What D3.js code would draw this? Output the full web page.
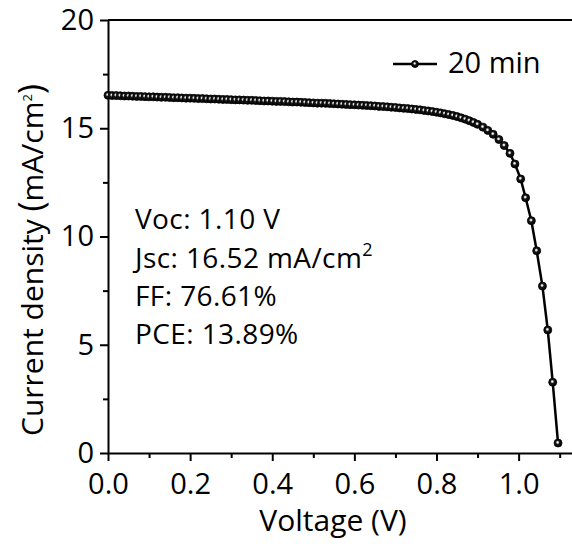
<!DOCTYPE html>
<html>
<head>
<script src="https://d3js.org/d3.v7.min.js"></script>
<style>
  body { margin: 0; padding: 0; background: #fff; }
  text { font-family: "Open Sans", sans-serif; fill: #000; }
</style>
</head>
<body>
<div id="chart"></div>
<script>
// J-V curve, 20 min sample
var voltage = [
  0.00, 0.01, 0.02, 0.03, 0.04, 0.05, 0.06, 0.07, 0.08, 0.09,
  0.10, 0.11, 0.12, 0.13, 0.14, 0.15, 0.16, 0.17, 0.18, 0.19,
  0.20, 0.21, 0.22, 0.23, 0.24, 0.25, 0.26, 0.27, 0.28, 0.29,
  0.30, 0.31, 0.32, 0.33, 0.34, 0.35, 0.36, 0.37, 0.38, 0.39,
  0.40, 0.41, 0.42, 0.43, 0.44, 0.45, 0.46, 0.47, 0.48, 0.49,
  0.50, 0.51, 0.52, 0.53, 0.54, 0.55, 0.56, 0.57, 0.58, 0.59,
  0.60, 0.61, 0.62, 0.63, 0.64, 0.65, 0.66, 0.67, 0.68, 0.69,
  0.70, 0.71, 0.72, 0.73, 0.74, 0.75, 0.76, 0.77, 0.78, 0.79,
  0.80, 0.81, 0.82, 0.83, 0.84, 0.85, 0.86, 0.87, 0.88, 0.89,
  0.90, 0.913, 0.925, 0.938, 0.952, 0.965, 0.979, 0.991, 1.005, 1.017,
  1.031, 1.044, 1.058, 1.071, 1.083, 1.096
];
var current = [
  16.52, 16.51, 16.51, 16.50, 16.49, 16.49, 16.48, 16.47, 16.47, 16.46,
  16.45, 16.45, 16.44, 16.43, 16.43, 16.42, 16.41, 16.41, 16.40, 16.39,
  16.39, 16.38, 16.37, 16.37, 16.36, 16.35, 16.35, 16.34, 16.33, 16.33,
  16.32, 16.31, 16.31, 16.30, 16.29, 16.29, 16.28, 16.27, 16.26, 16.26,
  16.25, 16.24, 16.24, 16.23, 16.22, 16.21, 16.21, 16.20, 16.19, 16.18,
  16.17, 16.16, 16.16, 16.15, 16.14, 16.13, 16.12, 16.11, 16.10, 16.09,
  16.08, 16.07, 16.06, 16.05, 16.04, 16.03, 16.01, 16.00, 15.99, 15.97,
  15.96, 15.94, 15.92, 15.91, 15.89, 15.87, 15.85, 15.82, 15.80, 15.77,
  15.74, 15.71, 15.67, 15.63, 15.59, 15.54, 15.48, 15.42, 15.35, 15.27,
  15.18, 15.05, 14.90, 14.72, 14.48, 14.20, 13.84, 13.35, 12.66, 11.79,
  10.73, 9.34, 7.71, 5.68, 3.27, 0.46
];
var xTicks = [0, 0.2, 0.4, 0.6, 0.8, 1.0];
var xMinor = [0.1, 0.3, 0.5, 0.7, 0.9, 1.1];
var yTicks = [0, 5, 10, 15, 20];
var yMinor = [2.5, 7.5, 12.5, 17.5];
var seriesName = "20 min";
var notes = ["Voc: 1.10 V", "Jsc: 16.52 mA/cm", "FF: 76.61%", "PCE: 13.89%"];

var width = 572, height = 547;

var svg = d3.select("#chart").append("svg")
    .attr("width", width)
    .attr("height", height);

// shaded ball marker
var grad = svg.append("defs").append("radialGradient")
    .attr("id", "ball")
    .attr("cx", "45%").attr("cy", "42%").attr("r", "55%");
grad.append("stop").attr("offset", "0%").attr("stop-color", "#ffffff");
grad.append("stop").attr("offset", "18%").attr("stop-color", "#d8d8d8");
grad.append("stop").attr("offset", "42%").attr("stop-color", "#1a1a1a");
grad.append("stop").attr("offset", "100%").attr("stop-color", "#000");

var x = d3.scaleLinear().domain([0, 1.13]).range([108, 572]);
var y = d3.scaleLinear().domain([0, 20]).range([453, 20]);

// axes
var xAxis = svg.append("g")
    .attr("transform", "translate(0," + y(0) + ")")
    .call(d3.axisBottom(x).tickValues(xTicks).tickFormat(d3.format(".1f"))
        .tickSize(8).tickSizeOuter(0).tickPadding(6));
svg.append("g")
    .attr("transform", "translate(0," + y(0) + ")")
    .call(d3.axisBottom(x).tickValues(xMinor).tickFormat("").tickSize(5).tickSizeOuter(0))
    .select(".domain").remove();

var yAxis = svg.append("g")
    .attr("transform", "translate(" + x(0) + ",0)")
    .call(d3.axisLeft(y).tickValues(yTicks).tickSize(8).tickSizeOuter(0).tickPadding(6));
svg.append("g")
    .attr("transform", "translate(" + x(0) + ",0)")
    .call(d3.axisLeft(y).tickValues(yMinor).tickFormat("").tickSize(5).tickSizeOuter(0))
    .select(".domain").remove();

svg.selectAll(".domain, .tick line").attr("stroke", "#000").attr("stroke-width", 2);
svg.selectAll(".tick text").style("font-size", "29px").style("font-family", "Open Sans");
xAxis.selectAll(".tick text").attr("dy", "0.92em");

// top frame line
svg.append("line")
    .attr("x1", x(0)).attr("x2", x(1.13))
    .attr("y1", y(20)).attr("y2", y(20))
    .attr("stroke", "#000").attr("stroke-width", 2);

// axis titles
svg.append("text")
    .attr("x", 333).attr("y", 531)
    .attr("text-anchor", "middle")
    .style("font-size", "30px")
    .text("Voltage (V)");

var yt = svg.append("text")
    .attr("transform", "translate(43," + 260 + ") rotate(-90)")
    .attr("text-anchor", "middle")
    .style("font-size", "30px");
yt.append("tspan").text("Current density ");
yt.append("tspan").style("font-size", "34px").text("(");
yt.append("tspan").text("mA/cm");
yt.append("tspan").attr("dy", "-11").style("font-size", "13px").text("2");
yt.append("tspan").attr("dy", "11").style("font-size", "34px").text(")");

// data
var pts = voltage.map(function(v, i) { return [v, current[i]]; });

svg.append("path")
    .datum(pts)
    .attr("fill", "none")
    .attr("stroke", "#000")
    .attr("stroke-width", 2.5)
    .attr("d", d3.line().x(function(d) { return x(d[0]); }).y(function(d) { return y(d[1]); }));

svg.selectAll("circle.pt")
    .data(pts)
    .enter().append("circle")
    .attr("class", "pt")
    .attr("cx", function(d) { return x(d[0]); })
    .attr("cy", function(d) { return y(d[1]); })
    .attr("r", 4)
    .attr("fill", "url(#ball)")
    .attr("stroke", "#000")
    .attr("stroke-width", 0.8);

// legend
svg.append("line")
    .attr("x1", 393).attr("x2", 437).attr("y1", 64).attr("y2", 64)
    .attr("stroke", "#000").attr("stroke-width", 2.5);
svg.append("circle")
    .attr("cx", 415).attr("cy", 64).attr("r", 3.5)
    .attr("fill", "url(#ball)").attr("stroke", "#000").attr("stroke-width", 0.8);
svg.append("text")
    .attr("x", 448).attr("y", 73)
    .style("font-size", "29px")
    .text(seriesName);

// annotations
var noteY = [229, 268, 306, 344];
notes.forEach(function(t, i) {
    var txt = svg.append("text")
        .attr("x", 135).attr("y", noteY[i])
        .style("font-size", "28px")
        .style("letter-spacing", "0.4px")
        .text(t);
    if (i === 1) {
        txt.append("tspan").attr("dy", "-12").style("font-size", "18px").text("2");
    }
});
</script>
</body>
</html>
